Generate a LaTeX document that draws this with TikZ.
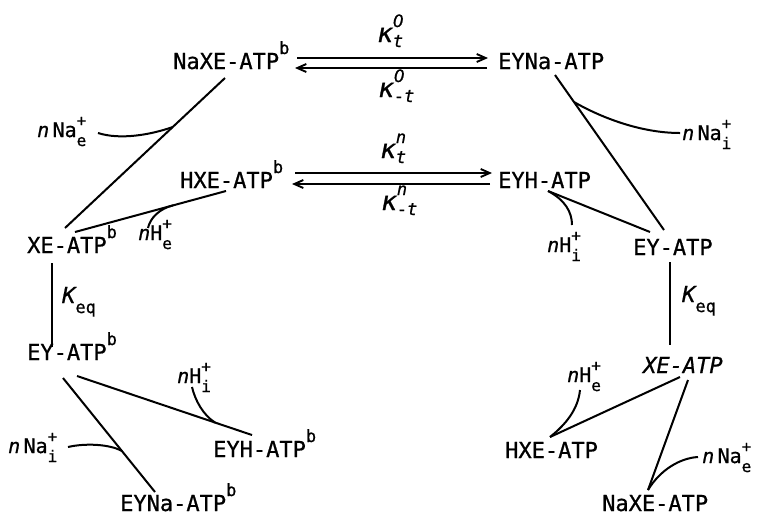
\documentclass[tikz,border=0pt]{standalone}
\usepackage{fontspec}
\usetikzlibrary{calc,arrows.meta}
\newfontfamily\mono[FakeBold=0.8]{DejaVu Sans Mono}
\newfontfamily\dsans[FakeBold=0.8]{DejaVu Sans}
\newcommand\supb{\raisebox{15pt}{\fontsize{17}{17}\selectfont b}}
\newcommand\myion[3]{#1\makebox[0pt][l]{\raisebox{11pt}{\fontsize{16}{16}\selectfont #3}}\raisebox{-9pt}{\fontsize{16}{16}\selectfont #2}}
\newcommand\kap[2]{{\fontsize{26}{26}\selectfont\itshape κ}\makebox[0pt][l]{\raisebox{15pt}{\fontsize{17}{17}\selectfont\itshape #2}}\raisebox{-5pt}{\fontsize{17}{17}\selectfont\itshape #1}}
\newcommand\keq{{\itshape K}\raisebox{-10pt}{\fontsize{17}{17}\selectfont eq}}
\tikzset{
  mainlbl/.style={font=\mono\fontsize{22}{24}\selectfont, inner sep=0pt, anchor=base west},
  smalllbl/.style={font=\mono\fontsize{20}{22}\selectfont, inner sep=0pt, anchor=base west},
  conn/.style={line width=2pt},
  arr/.style={line width=1.9pt, -{Straight Barb[length=9pt,width=8pt,line width=1.9pt]}}
}
\begin{document}
\begin{tikzpicture}[x=1pt,y=-1pt]
\useasboundingbox (0,0) rectangle (759,515);
% main species
\node[mainlbl] (naxeb) at (173,69) {NaXE-ATP\supb};
\node[mainlbl] (eyna)  at (498,69) {EYNa-ATP};
\node[mainlbl] (hxeb)  at (180,188) {HXE-ATP\supb};
\node[mainlbl] (eyh)   at (498,188) {EYH-ATP};
\node[mainlbl] (xeb)   at (27,253) {XE-ATP\supb};
\node[mainlbl] (eyr)   at (633,255) {EY-ATP};
\node[mainlbl] (eyb)   at (27,360) {EY-ATP\supb};
\node[mainlbl] (xer)   at (643,373) {\itshape XE-ATP};
\node[mainlbl] (eyhb)  at (213,457) {EYH-ATP\supb};
\node[mainlbl] (hxe)   at (505,458) {HXE-ATP};
\node[mainlbl] (eynab) at (120,511) {EYNa-ATP\supb};
\node[mainlbl] (naxe)  at (602,511) {NaXE-ATP};
% rate constants
\node[mainlbl] (k1) at (377,42) {\kap{t}{{\dsans 0}}};
\node[mainlbl] (k2) at (378,97) {\kap{\textup{-}t}{{\dsans 0}}};
\node[mainlbl] (k3) at (380,158) {\kap{t}{n}};
\node[mainlbl] (k4) at (381,210) {\kap{\textup{-}t}{n}};
\node[mainlbl] (keql) at (62,303) {\keq};
\node[mainlbl] (keqr) at (682,302) {\keq};
% ion labels
\node[smalllbl] (le1)  at (37,137)  {\textit{n}\,\myion{Na}{e}{+}};
\node[smalllbl] (lhe)  at (138,240) {\textit{n}\myion{H}{e}{+}};
\node[smalllbl] (lhi)  at (177,383) {\textit{n}\myion{H}{i}{+}};
\node[smalllbl] (lni)  at (8,453)   {\textit{n}\,\myion{Na}{i}{+}};
\node[smalllbl] (lni2) at (682,140) {\textit{n}\,\myion{Na}{i}{+}};
\node[smalllbl] (lhi2) at (547,252) {\textit{n}\myion{H}{i}{+}};
\node[smalllbl] (lhe2) at (567,382) {\textit{n}\myion{H}{e}{+}};
\node[smalllbl] (lne2) at (702,463) {\textit{n}\,\myion{Na}{e}{+}};
% double arrows
\draw[arr] ([shift={(124,-11)}]naxeb.base west) -- ([shift={(-10,-11)}]eyna.base west);
\draw[arr] ([shift={(-11,-1)}]eyna.base west) -- ([shift={(122,-1)}]naxeb.base west);
\draw[arr] ([shift={(115,-15)}]hxeb.base west) -- ([shift={(-6,-15)}]eyh.base west);
\draw[arr] ([shift={(-8,-4)}]eyh.base west) -- ([shift={(112,-4)}]hxeb.base west);
% connector end points
\coordinate (a1) at ([shift={(52,9)}]naxeb.base west);
\coordinate (b1) at ([shift={(38,-25)}]xeb.base west);
\coordinate (a3) at ([shift={(46,3)}]hxeb.base west);
\coordinate (b3) at ([shift={(48,-21)}]xeb.base west);
\coordinate (a6) at ([shift={(50,16)}]eyb.base west);
\coordinate (b6) at ([shift={(39,-22)}]eyhb.base west);
\coordinate (a8) at ([shift={(36,18)}]eyb.base west);
\coordinate (b8) at ([shift={(35,-19)}]eynab.base west);
\coordinate (a10) at ([shift={(57,6)}]eyna.base west);
\coordinate (b10) at ([shift={(31,-25)}]eyr.base west);
\coordinate (a12) at ([shift={(50,3)}]eyh.base west);
\coordinate (b12) at ([shift={(17,-23)}]eyr.base west);
\coordinate (a15) at ([shift={(37,4)}]xer.base west);
\coordinate (b15) at ([shift={(45,-21)}]hxe.base west);
\coordinate (a17) at ([shift={(45,7)}]xer.base west);
\coordinate (b17) at ([shift={(46,-21)}]naxe.base west);
% straight connectors
\draw[conn] (a1) -- (b1);
\draw[conn] (a3) -- (b3);
\draw[conn] ([shift={(25,10)}]xeb.base west) -- ([shift={(25,-13)}]eyb.base west);
\draw[conn] (a6) -- (b6);
\draw[conn] (a8) -- (b8);
\draw[conn] (a10) -- (b10);
\draw[conn] (a12) -- (b12);
\draw[conn] ([shift={(37,7)}]eyr.base west) -- ([shift={(27,-28)}]xer.base west);
\draw[conn] (a15) -- (b15);
\draw[conn] (a17) -- (b17);
% ion curves
\draw[conn] ([shift={(61,-4)}]le1.base west) .. controls +(22,7) and +(-23,8) .. ($(a1)!0.327!(b1)$);
\draw[conn] ([shift={(10,-12)}]lhe.base west) .. controls +(2,-10) and +(-13,3) .. ($(a3)!0.351!(b3)$);
\draw[conn] ([shift={(15,4)}]lhi.base west) .. controls +(3,13) and +(-12,-7.5) .. ($(a6)!0.789!(b6)$);
\draw[conn] ([shift={(60,-6)}]lni.base west) .. controls +(17,-4) and +(-12,-7) .. ($(a8)!0.641!(b8)$);
\draw[conn] ($(a10)!0.174!(b10)$) .. controls +(26,15) and +(-40,0) .. ([shift={(-2,-7)}]lni2.base west);
\draw[conn] (a12) .. controls +(17,9) and +(0,-13) .. ([shift={(25,-27)}]lhi2.base west);
\draw[conn] ([shift={(13,8)}]lhe2.base west) .. controls +(-2,20) and +(15,-12) .. (b15);
\draw[conn] ([shift={(-4,-6)}]lne2.base west) .. controls +(-18,1) and +(12,-20) .. (b17);
\end{tikzpicture}
\end{document}
